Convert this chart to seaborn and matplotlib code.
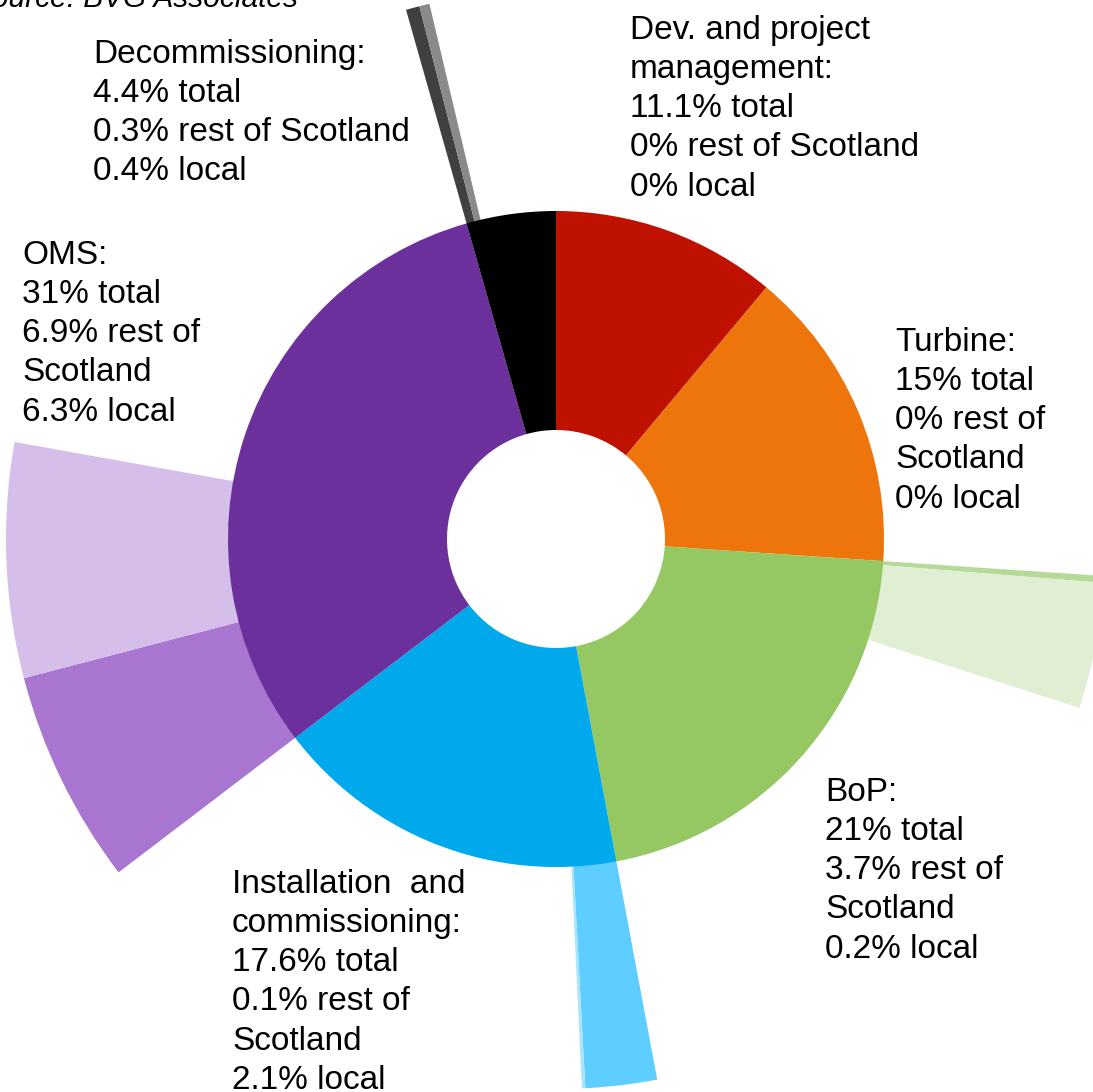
import matplotlib
matplotlib.use("Agg")
import matplotlib.pyplot as plt
import seaborn as sns

# Share of project spend by cost category (% of total lifetime spend)
categories = ["Dev. and project\nmanagement", "Turbine", "BoP",
              "Installation  and\ncommissioning", "OMS", "Decommissioning"]
total_share = [11.1, 15, 21, 17.6, 31, 4.4]
rest_of_scotland_share = [0, 0, 3.7, 0.1, 6.9, 0.3]
local_share = [0, 0, 0.2, 2.1, 6.3, 0.4]

# Colours: main category, local share, rest-of-Scotland share
main_colors = ["#BE1100", "#EE750B", "#95C762", "#00A8EC", "#6C309D", "#000000"]
local_colors = ["#BE1100", "#EE750B", "#B5DA98", "#5ECDFF", "#A876D0", "#404040"]
rest_colors = ["#BE1100", "#EE750B", "#E0EFD4", "#A9E3FF", "#D6BEEA", "#8A8A8A"]

sns.set_theme(style="white")
plt.rcParams["font.family"] = ["Liberation Sans", "DejaVu Sans"]

W, H, DPI = 1093, 1092, 100
fig = plt.figure(figsize=(W / DPI, H / DPI), dpi=DPI)
ax = fig.add_axes([0, 0, 1, 1])

# pixel-based layout: centre of the donut
cx, cy = 556, 539
r_hole, r_ring, r_outer = 109, 328, 550

# Outer spokes: local then rest-of-Scotland, starting at each category's start angle
outer_vals, outer_cols = [], []
for t, loc, rest, lc, rc in zip(total_share, local_share, rest_of_scotland_share,
                                local_colors, rest_colors):
    outer_vals += [loc, rest, t - loc - rest]
    outer_cols += [lc, rc, "none"]

ax.pie(outer_vals, colors=outer_cols, radius=r_outer, startangle=90,
       counterclock=False, wedgeprops=dict(width=r_outer - r_ring + 8, linewidth=0))

# Main donut ring
ax.pie(total_share, colors=main_colors, radius=r_ring, startangle=90,
       counterclock=False, wedgeprops=dict(width=r_ring - r_hole, linewidth=0))

ax.set_aspect("auto")
ax.set_xlim(-cx, W - cx)
ax.set_ylim(-(H - cy), cy)
ax.axis("off")


def fmt(v):
    return f"{v:g}"


def px(x, y):
    return x / W, 1 - y / H


# label text and anchor (top-left, pixels)
label_pos = [(630, 15), (895, 327), (825, 777), (232, 869), (22, 240), (93, 39)]
split_rest = [False, True, True, True, True, False]

for name, t, rest, loc, (x, y), split in zip(categories, total_share,
                                              rest_of_scotland_share, local_share,
                                              label_pos, split_rest):
    rest_txt = (f"{fmt(rest)}% rest of\nScotland" if split
                else f"{fmt(rest)}% rest of Scotland")
    txt = f"{name}:\n{fmt(t)}% total\n{rest_txt}\n{fmt(loc)}% local"
    fig.text(*px(x, y), txt, ha="left", va="top", fontsize=24,
             linespacing=1.34, color="#000000")

fig.text(*px(298, 7), "Source: BVG Associates", ha="right", va="baseline",
         fontsize=21.5, style="italic", color="#000000")

fig.savefig("out.png", dpi=DPI)
